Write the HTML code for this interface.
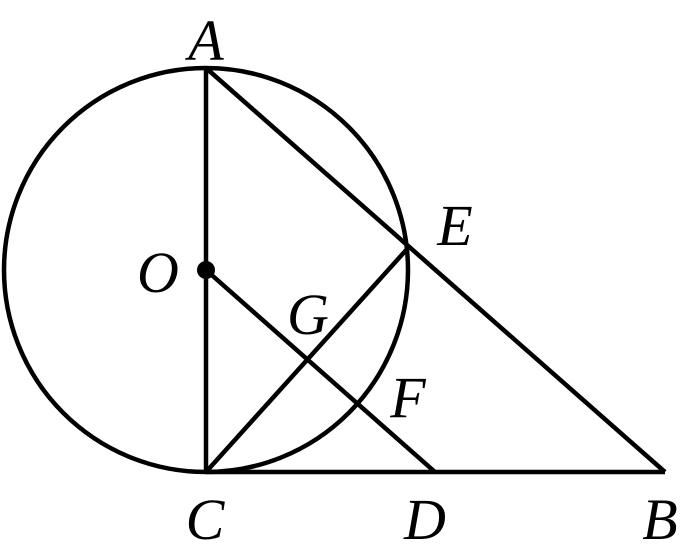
<!DOCTYPE html>
<html><head><style>body{margin:0;background:#fff}svg{display:block}</style></head><body>
<svg width="687" height="547" viewBox="0 0 687 547" xmlns="http://www.w3.org/2000/svg">
<g fill="none" stroke="#000" stroke-width="4.5" stroke-linejoin="round">
<circle cx="206" cy="270" r="202"/>
<line x1="206" y1="68" x2="206" y2="472"/>
<line x1="206" y1="68" x2="665" y2="472"/>
<line x1="206" y1="472" x2="665" y2="472"/>
<line x1="206" y1="472" x2="408" y2="248"/>
<line x1="206" y1="270" x2="435" y2="472"/>
</g>
<circle cx="206" cy="270" r="9" fill="#000"/>
<g font-family="Liberation Serif, serif" font-style="italic" font-size="58" fill="#000" text-anchor="middle">
<text x="206" y="60">A</text>
<text x="455" y="245">E</text>
<text x="158" y="292">O</text>
<text x="308" y="334">G</text>
<text x="408" y="417">F</text>
<text x="205" y="539">C</text>
<text x="425" y="539">D</text>
<text x="660" y="539">B</text>
</g>
</svg>
</body></html>
